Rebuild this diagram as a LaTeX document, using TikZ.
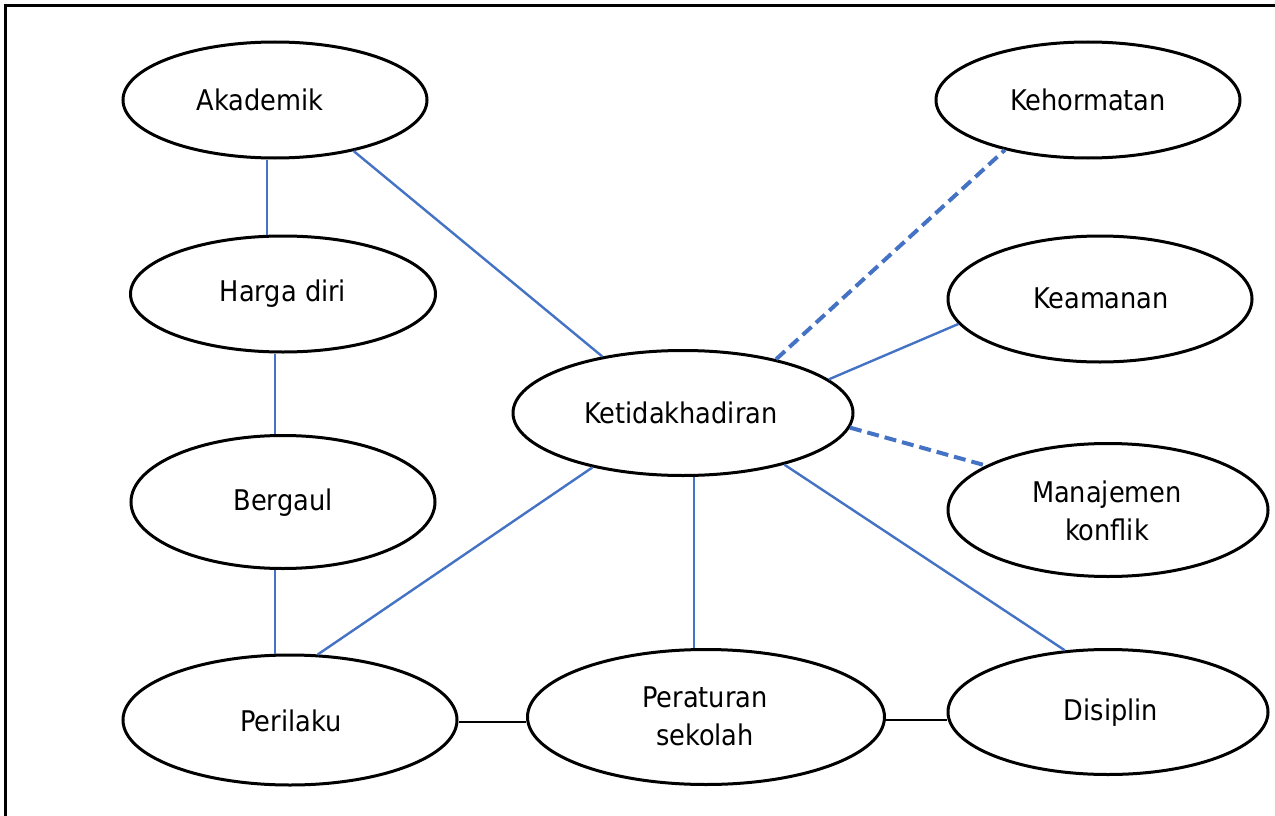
\documentclass[tikz,border=0pt]{standalone}
\usepackage{fontspec}
\setmainfont{DejaVu Sans Condensed}
\usetikzlibrary{shapes.geometric}
\definecolor{linkblue}{HTML}{4472C4}
\tikzset{
  bubble/.style={draw=black, line width=3pt, ellipse, inner sep=0pt, fill=white},
  lbl/.style={font=\fontsize{28.5}{38}\selectfont, align=center, inner sep=0pt},
  link/.style={draw=linkblue, line width=2.4pt},
  weaklink/.style={draw=linkblue, line width=4pt, dash pattern=on 12pt off 6pt},
  plain/.style={draw=black, line width=2.6pt},
  frameline/.style={draw=black, line width=3pt}
}
\begin{document}
\begin{tikzpicture}[x=1pt, y=-1pt]
\useasboundingbox (0,0) rectangle (1275,816);
% page frame (top and left edges)
\draw[frameline] (5,816) -- (5,6) -- (1275,6);

% concept bubbles
\node[bubble, minimum width=304pt, minimum height=116pt] (akademik) at (275,100) {};
\node[bubble, minimum width=305pt, minimum height=116pt] (harga) at (283,294) {};
\node[bubble, minimum width=304pt, minimum height=133pt] (bergaul) at (283,502) {};
\node[bubble, minimum width=334pt, minimum height=130pt] (perilaku) at (290,720) {};
\node[bubble, minimum width=340pt, minimum height=125pt] (ketidak) at (683,413) {};
\node[bubble, minimum width=304pt, minimum height=116pt] (kehormatan) at (1088,100) {};
\node[bubble, minimum width=304pt, minimum height=126pt] (keamanan) at (1100,299) {};
\node[bubble, minimum width=320pt, minimum height=133pt] (manajemen) at (1108,510) {};
\node[bubble, minimum width=357pt, minimum height=135pt] (peraturan) at (706,717) {};
\node[bubble, minimum width=320pt, minimum height=125pt] (disiplin) at (1108,712) {};

% labels
\node[lbl] (akademik-t) at (260,100) {Akademik};
\node[lbl] (harga-t) at (283,294) {Harga diri};
\node[lbl] (bergaul-t) at (283,503) {Bergaul};
\node[lbl] (perilaku-t) at (291,721) {Perilaku};
\node[lbl] (ketidak-t) at (681,413) {Ketidakhadiran};
\node[lbl] (kehormatan-t) at (1088,100) {Kehormatan};
\node[lbl] (keamanan-t) at (1101,298) {Keamanan};
\node[lbl] (manajemen-t) at (1107,511) {Manajemen\\konflik};
\node[lbl] (peraturan-t) at (705,716) {Peraturan\\sekolah};
\node[lbl] (disiplin-t) at (1111,713) {Disiplin};

% blue links
\draw[link] ([xshift=-8pt]akademik.south) -- ([xshift=-16pt]harga.north);
\draw[link] (akademik.-33) -- (ketidak.145.7);
\draw[link] ([xshift=-8pt]harga.south) -- ([xshift=-8pt]bergaul.north);
\draw[link] ([xshift=-8pt]bergaul.south) -- ([xshift=-15pt]perilaku.north);
\draw[link] (perilaku.67.4) -- (ketidak.211);
\draw[link] ([xshift=11pt]ketidak.south) -- ([xshift=-12pt]peraturan.north);
\draw[link] (ketidak.-27.2) -- (disiplin.125);
\draw[link] (ketidak.13.8) -- (keamanan.190.5);
\draw[weaklink] (ketidak.30) -- (kehormatan.211);
\draw[weaklink] (ketidak.-5) -- (manajemen.160);

% black links along the bottom row
\draw[plain] ([yshift=-2pt]perilaku.east) -- ([yshift=-2pt]perilaku.east -| peraturan.west);
\draw[plain] ([yshift=-3pt]peraturan.east) -- ([yshift=-3pt]peraturan.east -| disiplin.west);
\end{tikzpicture}
\end{document}
